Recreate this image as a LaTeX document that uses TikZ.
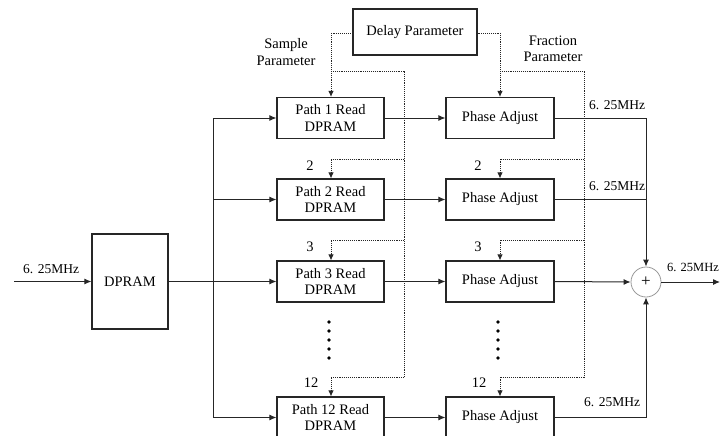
\documentclass[tikz,border=0pt]{standalone}
\usepackage{fontspec}
\setmainfont{Liberation Serif}
\usetikzlibrary{arrows.meta}
\begin{document}
\begin{tikzpicture}[x=1pt,y=-1pt,
  box/.style={draw=black!85,line width=1.1pt,fill=white,align=center,inner sep=0pt,font=\fontsize{14.5}{16.5}\selectfont},
  arr/.style={line width=1pt,draw=black!85,-{Latex[length=7pt,width=6pt]}},
  ln/.style={line width=1pt,draw=black!85},
  dots/.style={line width=0.9pt,draw=black!85,densely dotted},
  darr/.style={dots,-{Latex[length=6pt,width=5.5pt]}},
  lbl/.style={font=\fontsize{14.5}{16.5}\selectfont,inner sep=0pt},
  freq/.style={font=\fontsize{13.5}{15}\selectfont,inner sep=0pt,anchor=base west},
  vdot/.style={circle,fill=black,inner sep=0pt,minimum size=3.8pt}]
\useasboundingbox (0,0) rectangle (720,436);
\begin{scope}
\clip (0,0) rectangle (720,436);
% nodes
\node[box,minimum width=124pt,minimum height=46pt] (delay) at (415,32) {Delay Parameter};
\node[box,minimum width=76pt,minimum height=95pt] (dpram) at (130,281.5) {DPRAM};
\node[box,minimum width=107pt,minimum height=41pt] (p1) at (330.5,118) {Path 1 Read\\DPRAM};
\node[box,minimum width=107pt,minimum height=41pt] (p2) at (330.5,199.5) {Path 2 Read\\DPRAM};
\node[box,minimum width=107pt,minimum height=41pt] (p3) at (330.5,281.5) {Path 3 Read\\DPRAM};
\node[box,minimum width=107pt,minimum height=41pt] (p12) at (330.5,417.5) {Path 12 Read\\DPRAM};
\node[box,minimum width=108pt,minimum height=41pt] (a1) at (500,118) {Phase Adjust};
\node[box,minimum width=108pt,minimum height=41pt] (a2) at (500,199.5) {Phase Adjust};
\node[box,minimum width=108pt,minimum height=41pt] (a3) at (500,281.5) {Phase Adjust};
\node[box,minimum width=108pt,minimum height=41pt] (a12) at (500,417.5) {Phase Adjust};
\node[circle,draw=black!40,line width=0.8pt,minimum size=30pt,inner sep=0pt,font=\fontsize{17}{17}\selectfont] (sum) at (646,282) {+};

% text labels
\node[lbl,align=center] (sp) at (286,52) {Sample\\Parameter};
\node[lbl,align=center] (fp) at (553,49) {Fraction\\Parameter};
\node[lbl] (l2a) at (310,166) {2};
\node[lbl] (l3a) at (310,247) {3};
\node[lbl] (l12a) at (311,383) {12};
\node[lbl] (l2b) at (478,166) {2};
\node[lbl] (l3b) at (478,247) {3};
\node[lbl] (l12b) at (479,383) {12};

% coordinates
\coordinate (in) at (14,281.5);
\coordinate (out) at (720,282);
\coordinate (split) at (213,281.5);
\coordinate (lt) at (331,33);
\coordinate (rt) at (500,33);
\coordinate (lb0) at (331,71);
\coordinate (lbx) at (404,71);
\coordinate (lbb) at (404,377);
\coordinate (rb0) at (500,71);
\coordinate (rbx) at (584,71);
\coordinate (rbb) at (584,377);

% dotted parameter buses
\draw[dots] (delay.west |- lt) -- (lt);
\draw[darr] (lt) -- (p1.north -| lt);
\draw[dots] (delay.east |- rt) -- (rt);
\draw[darr] (rt) -- (a1.north);
\draw[dots] (lb0) -- (lbx) -- (lbb);
\draw[dots] (rb0) -- (rbx) -- (rbb);
\draw[darr] (404,159) -| (p2.north -| lt);
\draw[darr] (404,240) -| (p3.north -| lt);
\draw[darr] (lbb) -| (p12.north -| lt);
\draw[darr] (584,159) -| (a2.north);
\draw[darr] (584,240) -| (a3.north);
\draw[darr] (rbb) -| (a12.north);

% main signal flow
\draw[arr] (in) -- (dpram.west);
\node[freq] (fin) at (23,273) {6. 25MHz};
\draw[arr] (dpram.east) -- (p3.west);
\draw[ln] (split) -- (split |- p1.west);
\draw[ln] (split) -- (split |- p12.west);
\draw[arr] (split |- p1.west) -- (p1.west);
\draw[arr] (split |- p2.west) -- (p2.west);
\draw[arr] (split |- p12.west) -- (p12.west);
\draw[arr] (p1.east) -- (a1.west);
\draw[arr] (p2.east) -- (a2.west);
\draw[arr] (p3.east) -- (a3.west);
\draw[arr] (p12.east) -- (a12.west);
\draw[arr] (a1.east) -| (sum.north);
\draw[ln] (a2.east) -- (a2.east -| sum.north);
\draw[arr] (a3.east) -- (sum.west);
\draw[arr] (a12.east) -| (sum.south);
\draw[arr] (sum.east) -- (out);
\node[freq] (f1) at (589,110) {6. 25MHz};
\node[freq] (f2) at (589,190) {6. 25MHz};
\node[freq] (f12) at (584,406) {6. 25MHz};
\node[freq,font=\fontsize{12.5}{15}\selectfont] (fout) at (667,271) {6. 25MHz};

% vertical ellipsis dots
\foreach \yy [count=\i] in {322,331,340,349,358} {
  \node[vdot] (dl\i) at (329,\yy) {};
  \node[vdot] (dr\i) at (498,\yy) {};
}
\end{scope}
\end{tikzpicture}
\end{document}
